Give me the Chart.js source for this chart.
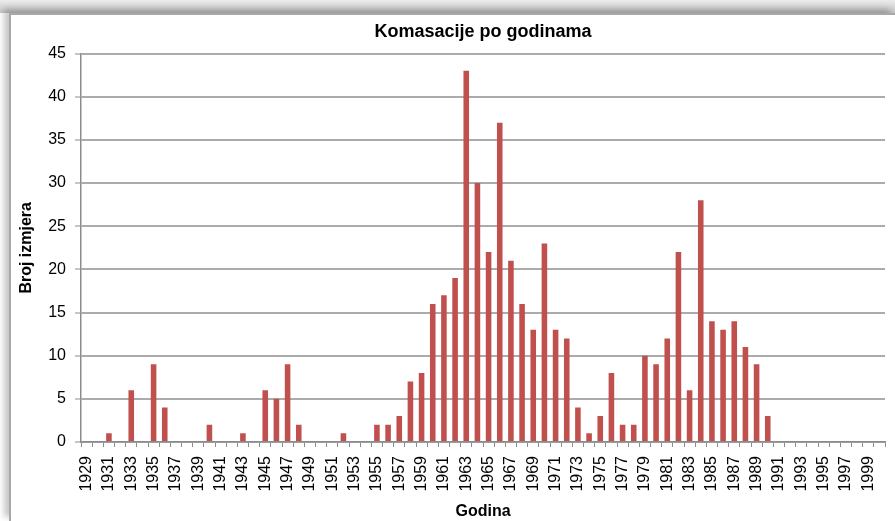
<!DOCTYPE html>
<html lang="hr">
  <head>
    <meta charset="UTF-8" />
    <title>Komasacije po godinama</title>
    <style>
      html, body { margin: 0; padding: 0; background: #fff; overflow: hidden; }
      body { width: 895px; height: 521px; position: relative;
        background: linear-gradient(#ececec, #c4c4c4 13px, #fff 13px); }
      .frame {
        position: absolute; left: 9px; top: 13px; right: 0; bottom: 0;
        background: #fff;
        border-left: 2px solid #a8a8a8; border-top: 2px solid #a8a8a8;
        box-shadow: -5px -4px 6px rgba(0, 0, 0, 0.22);
      }
      .box { position: absolute; left: 0; top: 0; width: 884px; height: 506px; }
    </style>
  </head>
  <body>
    <div class="frame">
      <div class="box"><canvas id="myChart"></canvas></div>
    </div>

    <script src="https://cdn.jsdelivr.net/npm/chart.js"></script>
    <script>
      // godine 1929-2000
      const years = [
        "1929", "1930", "1931", "1932", "1933", "1934", "1935", "1936", "1937", "1938",
        "1939", "1940", "1941", "1942", "1943", "1944", "1945", "1946", "1947", "1948",
        "1949", "1950", "1951", "1952", "1953", "1954", "1955", "1956", "1957", "1958",
        "1959", "1960", "1961", "1962", "1963", "1964", "1965", "1966", "1967", "1968",
        "1969", "1970", "1971", "1972", "1973", "1974", "1975", "1976", "1977", "1978",
        "1979", "1980", "1981", "1982", "1983", "1984", "1985", "1986", "1987", "1988",
        "1989", "1990", "1991", "1992", "1993", "1994", "1995", "1996", "1997", "1998",
        "1999", "2000"
      ];
      const counts = [
        0, 0, 1, 0, 6, 0, 9, 4, 0, 0,
        0, 2, 0, 0, 1, 0, 6, 5, 9, 2,
        0, 0, 0, 1, 0, 0, 2, 2, 3, 7,
        8, 16, 17, 19, 43, 30, 22, 37, 21, 16,
        13, 23, 13, 12, 4, 1, 3, 8, 2, 2,
        10, 9, 12, 22, 6, 28, 14, 13, 14, 11,
        9, 3, 0, 0, 0, 0, 0, 0, 0, 0,
        0, 0
      ];
      const yTicks = [0, 5, 10, 15, 20, 25, 30, 35, 40, 45];

      const font = "'Liberation Sans', Arial, sans-serif";

      const config = {
        type: "bar",
        data: {
          labels: years,
          datasets: [
            {
              label: "Komasacije",
              data: counts,
              backgroundColor: "#c0504d",
              borderWidth: 0,
              barPercentage: 0.5,
              categoryPercentage: 1.0,
            },
          ],
        },
        options: {
          responsive: true,
          maintainAspectRatio: false,
          animation: false,
          layout: { padding: { left: 0, right: 0, top: 0, bottom: 0 } },
          plugins: {
            legend: { display: false },
            tooltip: { enabled: false },
            title: {
              display: true,
              text: "Komasacije po godinama",
              fullSize: false,
              color: "#000",
              font: { family: font, size: 18, weight: "bold" },
              padding: { top: 6, bottom: 11 },
            },
          },
          scales: {
            x: {
              afterFit: (s) => { s.height = 79; s.paddingRight = 10; },
              grid: {
                drawOnChartArea: false,
                drawTicks: true,
                tickLength: 5,
                color: "#8c8c8c",
                offset: true,
              },
              border: { display: true, color: "#8c8c8c", width: 1.5 },
              ticks: {
                autoSkip: false,
                maxRotation: 90,
                minRotation: 90,
                padding: 9,
                color: "#000",
                font: { family: font, size: 16 },
                callback: function (val, i) {
                  return i % 2 === 0 ? years[i] : "";
                },
              },
              title: {
                display: true,
                text: "Godina",
                color: "#000",
                font: { family: font, size: 16, weight: "bold" },
                padding: { top: 0, bottom: 0 },
              },
            },
            y: {
              min: 0,
              max: 45,
              afterFit: (s) => { s.width = 70; },
              afterBuildTicks: (s) => { s.ticks = yTicks.map((v) => ({ value: v })); },
              grid: {
                color: "#ababab",
                lineWidth: 2,
                drawTicks: true,
                tickLength: 6,
                tickColor: "#8c8c8c",
                tickWidth: 1,
              },
              border: { display: true, color: "#8c8c8c", width: 1.5 },
              ticks: {
                padding: 9,
                color: "#000",
                font: { family: font, size: 16 },
              },
              title: {
                display: true,
                text: "Broj izmjera",
                color: "#000",
                font: { family: font, size: 16, weight: "bold" },
                padding: { top: 6, bottom: 0 },
              },
            },
          },
        },
      };
      new Chart(document.getElementById("myChart"), config);
    </script>
  </body>
</html>
